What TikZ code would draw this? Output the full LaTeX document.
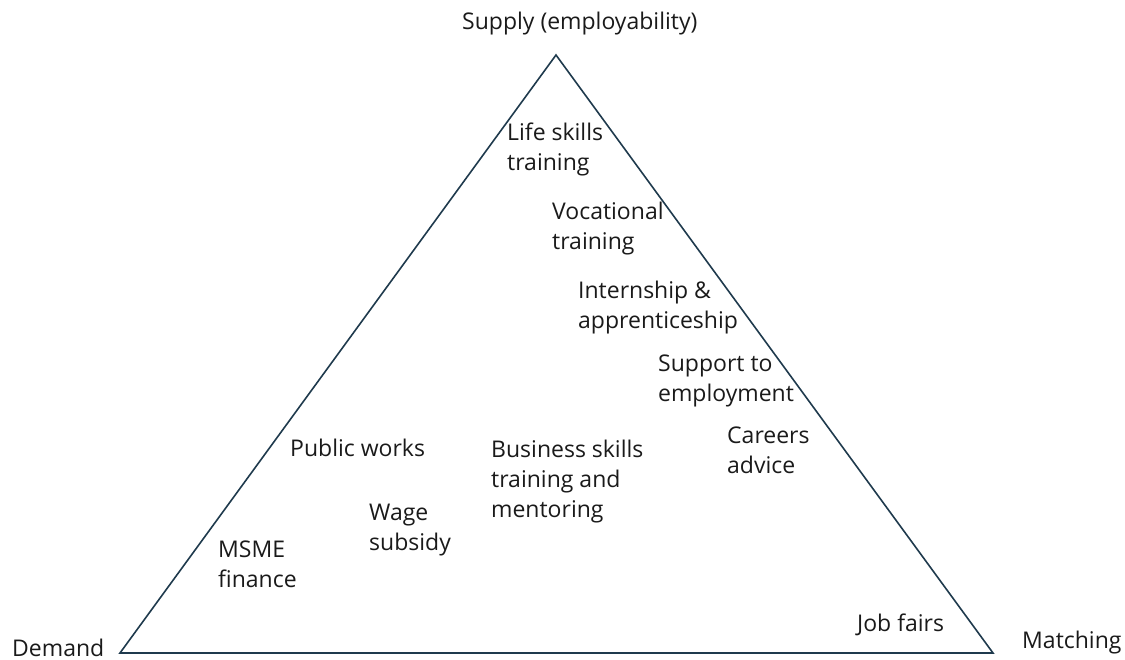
\documentclass[tikz,border=0pt]{standalone}
\usepackage{fontspec}
\setmainfont{Open Sans}
\definecolor{edgeNavy}{HTML}{1F3A4D}
\definecolor{lblInk}{HTML}{1A1A1A}

\begin{document}
\begin{tikzpicture}[x=1pt, y=-1pt,
    lbl/.style={anchor=base west, align=left, inner sep=0pt, text=lblInk,
                font=\fontsize{23}{30}\selectfont}]
    \useasboundingbox (0,0) rectangle (1125,660);
    % corners of the triangle
    \coordinate (top) at (556,55);
    \coordinate (left) at (120,653);
    \coordinate (right) at (993,653);
    \draw[edgeNavy, line width=1.6pt, line join=miter] (top) -- (right) -- (left) -- cycle;
    % corner labels
    \node[lbl] (supply) at (462,30) {Supply (employability)};
    \node[lbl] (demand) at (12,656) {Demand};
    \node[lbl] (matching) at (1022,648) {Matching};
    % programmes inside (base = last line)
    \node[lbl] (life) at (507,171) {Life skills\\training};
    \node[lbl] (voc) at (552,250) {Vocational\\training};
    \node[lbl] (intern) at (578,329) {Internship \&\\apprenticeship};
    \node[lbl] (support) at (658,401) {Support to\\employment};
    \node[lbl] (careers) at (727,473) {Careers\\advice};
    \node[lbl] (public) at (290,456) {Public works};
    \node[lbl] (business) at (491,517) {Business skills\\training and\\mentoring};
    \node[lbl] (wage) at (369,550) {Wage\\subsidy};
    \node[lbl] (msme) at (218,587) {MSME\\finance};
    \node[lbl] (jobfairs) at (857,631) {Job fairs};
\end{tikzpicture}
\end{document}
